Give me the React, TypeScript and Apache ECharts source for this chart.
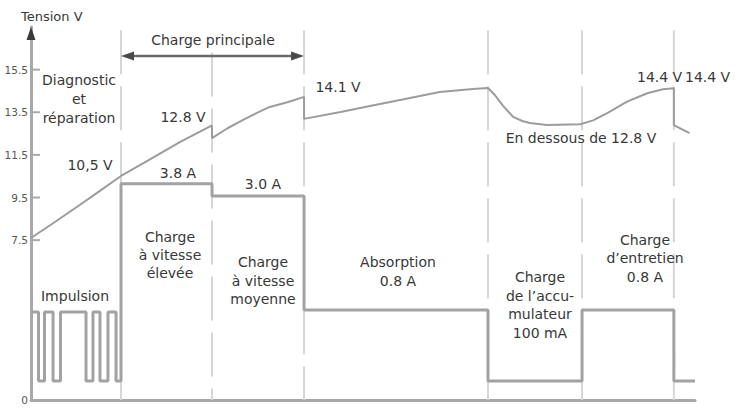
import { useEffect, useRef } from "react";
import * as echarts from "echarts";

// Time axis in stage units (one unit per stage, absorption spans two).
// The vertical scale is the voltage scale; the current trace is drawn on it
// as read from the picture (the figure has no current axis).
const stageEdges = [0.98, 1.971, 2.973, 4.976, 6.0, 7.0];
const stageTops = [17.35, 16.3, 17.35, 17.35, 17.35, 17.35];
const mainChargeSpan = [0.98, 2.973, 16.14];

const yTickValues = [0, 7.5, 9.5, 11.5, 13.5, 15.5];

const voltageCurve = [
  [0, 7.6], [0.26, 8.35], [0.53, 9.15], [0.75, 9.81], [0.98, 10.51],
  [1.3, 11.3], [1.62, 12.1], [1.971, 12.88],
  [1.971, 12.29], [2.14, 12.75], [2.31, 13.14], [2.46, 13.47], [2.6, 13.75], [2.8, 13.98], [2.973, 14.22],
  [2.973, 13.19], [3.37, 13.51], [3.65, 13.76], [3.91, 13.98], [4.18, 14.22], [4.45, 14.45], [4.81, 14.59], [4.976, 14.64],
  [5.05, 14.31], [5.14, 13.8], [5.25, 13.28], [5.35, 13.09], [5.43, 13.0], [5.62, 12.9], [5.98, 12.94],
  [6.12, 13.12], [6.27, 13.45], [6.49, 14.0], [6.71, 14.39], [6.88, 14.58], [7.0, 14.63],
  [7.0, 12.9], [7.17, 12.52],
];

// step "end": each point holds its level until the next point
const currentTrace = [
  [0.011, 4.13], [0.082, 0.89], [0.147, 4.13], [0.24, 0.89], [0.321, 4.13],
  [0.599, 0.89], [0.675, 4.13], [0.751, 0.89], [0.838, 4.13], [0.926, 0.89],
  [0.98, 10.14], [1.971, 9.57], [2.973, 4.22], [4.976, 0.89], [6.0, 4.22],
  [7.0, 0.89], [7.23, 0.89],
];

const stageLabels = [
  "Diagnostic",
  "et",
  "réparation",
  "Impulsion",
  "Charge\nà vitesse\nélevée",
  "Charge\nà vitesse\nmoyenne",
  "Absorption\n0.8 A",
  "Charge\nde l’accu-\nmulateur\n100 mA",
  "Charge\nd’entretien\n0.8 A",
];
const valueLabels = ["10,5 V", "12.8 V", "3.8 A", "3.0 A", "14.1 V", "14.4 V", "14.4 V", "En dessous de 12.8 V"];

const FONT = '"DejaVu Sans", sans-serif';
const TEXT = "#383838";
const GREY = "#9c9c9c";

// texts are drawn as title components, one per line, centred on their own
function label(text: string, x: number, y: number, align = "center", size = 14, lh = 18.5) {
  const lines = text.split("\n");
  const y0 = y - ((lines.length - 1) * lh) / 2;
  return lines.map((line, i) => ({
    text: line,
    left: x,
    top: y0 + i * lh - size * 0.6,
    padding: 0,
    textAlign: align,
    textStyle: {
      color: TEXT,
      fontSize: size,
      fontWeight: "normal",
      fontFamily: FONT,
      lineHeight: size * 1.2,
    },
  }));
}

export default function App() {
  const ref = useRef<HTMLDivElement>(null);

  useEffect(() => {
    if (!ref.current) return;
    const chart = echarts.init(ref.current, null, { renderer: "svg" });

    const option: any = {
      animation: false,
      grid: { left: 31, right: 45, top: 27, bottom: 12 },
      title: [
        ...label("Tension V", 21, 17, "left", 13),
        ...label("Charge principale", 213, 40),
        ...label(stageLabels[0], 79, 80),
        ...label(stageLabels[1], 72, 99, "left"),
        ...label(stageLabels[2], 79, 118),
        ...label(stageLabels[3], 75, 296),
        ...label(stageLabels[4], 170, 255, "center", 14, 18),
        ...label(stageLabels[5], 263, 281),
        ...label(stageLabels[6], 398, 271.5, "center", 14, 19),
        ...label(stageLabels[7], 540, 305, "center", 14, 18.7),
        ...label(stageLabels[8], 645, 258.5),
        ...label(valueLabels[0], 90, 165),
        ...label(valueLabels[1], 183, 117),
        ...label(valueLabels[2], 178, 173),
        ...label(valueLabels[3], 263, 184),
        ...label(valueLabels[4], 338, 87),
        ...label(valueLabels[5], 637, 77, "left"),
        ...label(valueLabels[6], 685, 77, "left"),
        ...label(valueLabels[7], 581, 138),
      ],
      xAxis: {
        type: "value",
        min: 0,
        max: 7.23,
        axisLine: { show: true, lineStyle: { color: "#a8a8a8", width: 3 } },
        axisTick: { show: false },
        axisLabel: { show: false },
        splitLine: { show: false },
      },
      yAxis: {
        type: "value",
        min: 0,
        max: 17.5,
        interval: 0.5,
        axisLine: { show: true, lineStyle: { color: "#a8a8a8", width: 3 } },
        axisTick: { show: false },
        splitLine: { show: false },
        axisLabel: {
          color: "#555",
          fontSize: 10.5,
          fontFamily: FONT,
          margin: 3,
          formatter: (v: number) => (yTickValues.includes(v) ? String(v) : ""),
        },
      },
      series: [
        {
          // stage boundaries
          type: "custom",
          z: 1,
          data: stageEdges.map((x, i) => [x, stageTops[i]]),
          encode: { x: 0, y: 1 },
          renderItem: (_p: any, api: any) => {
            const top = api.coord([api.value(0), api.value(1)]);
            const bot = api.coord([api.value(0), 0]);
            return {
              type: "line",
              shape: { x1: top[0], y1: top[1], x2: bot[0], y2: bot[1] },
              style: { stroke: "#d6d6d6", lineWidth: 2, lineDash: [44, 12] },
            };
          },
        },
        {
          type: "line",
          z: 3,
          data: currentTrace,
          step: "end",
          showSymbol: false,
          lineStyle: { color: "#a2a2a2", width: 3 },
        },
        {
          type: "line",
          z: 4,
          data: voltageCurve,
          showSymbol: false,
          lineStyle: { color: GREY, width: 2 },
        },
        {
          // y tick marks
          type: "custom",
          z: 5,
          data: yTickValues.filter((v) => v > 0).map((v) => [0, v]),
          encode: { x: 0, y: 1 },
          renderItem: (_p: any, api: any) => {
            const p = api.coord([api.value(0), api.value(1)]);
            return {
              type: "line",
              shape: { x1: p[0], y1: p[1], x2: p[0] + 9, y2: p[1] },
              style: { stroke: "#a8a8a8", lineWidth: 2 },
            };
          },
        },
        {
          // arrow head of the voltage axis
          type: "custom",
          z: 6,
          data: [[0, 17.5]],
          encode: { x: 0, y: 1 },
          renderItem: (_p: any, api: any) => {
            const p = api.coord([api.value(0), api.value(1)]);
            return {
              type: "polygon",
              shape: { points: [[p[0], p[1]], [p[0] - 4.5, p[1] + 13], [p[0] + 4.5, p[1] + 13]] },
              style: { fill: "#3a3a3a" },
            };
          },
        },
        {
          // "Charge principale" double arrow
          type: "custom",
          z: 6,
          data: [mainChargeSpan],
          encode: { x: [0, 1], y: 2 },
          renderItem: (_p: any, api: any) => {
            const a = api.coord([api.value(0), api.value(2)]);
            const b = api.coord([api.value(1), api.value(2)]);
            const c = "#4a4a4a";
            return {
              type: "group",
              children: [
                {
                  type: "line",
                  shape: { x1: a[0] + 8, y1: a[1], x2: b[0] - 8, y2: b[1] },
                  style: { stroke: "#6a6a6a", lineWidth: 2.5 },
                },
                {
                  type: "polygon",
                  shape: { points: [[a[0], a[1]], [a[0] + 13, a[1] - 4.5], [a[0] + 13, a[1] + 4.5]] },
                  style: { fill: c },
                },
                {
                  type: "polygon",
                  shape: { points: [[b[0], b[1]], [b[0] - 13, b[1] - 4.5], [b[0] - 13, b[1] + 4.5]] },
                  style: { fill: c },
                },
              ],
            };
          },
        },
      ],
    };

    chart.setOption(option);
    return () => chart.dispose();
  }, []);

  return (
    <div
      ref={ref}
      style={{ position: "fixed", left: 0, top: 0, width: 740, height: 412, background: "#fff" }}
    />
  );
}
